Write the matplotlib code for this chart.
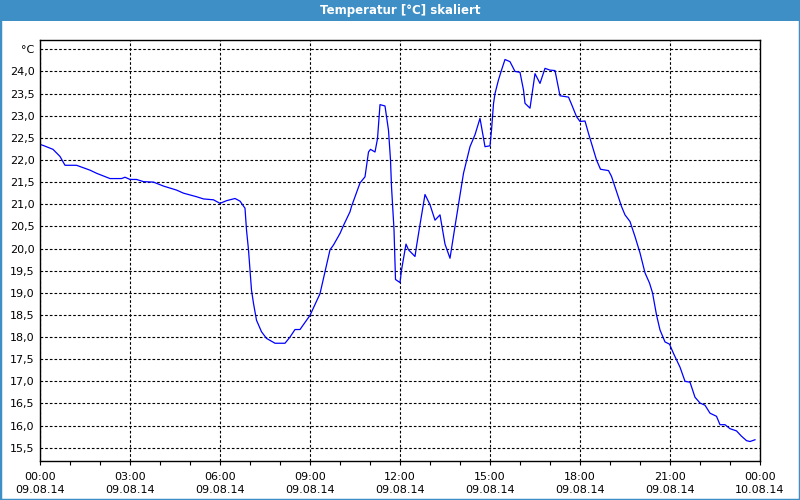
import datetime as dt
import matplotlib
matplotlib.use("Agg")
import matplotlib.pyplot as plt
import matplotlib.dates as mdates
from matplotlib.patches import Rectangle
from matplotlib.ticker import FixedLocator, FuncFormatter

# Messwerte 09.08.14 (Uhrzeit, Temperatur in °C)
times = [
    "00:00", "00:06", "00:26", "00:40", "00:50", "01:13", "01:40", "01:53",
    "02:20", "02:43", "02:50", "03:00", "03:13", "03:27", "03:47", "04:07",
    "04:33", "04:47", "05:13", "05:27", "05:47", "06:00", "06:13", "06:30",
    "06:40", "06:50", "06:53", "06:57", "07:00", "07:03", "07:07", "07:13",
    "07:23", "07:33", "07:50", "08:10", "08:20", "08:30", "08:40", "09:00",
    "09:20", "09:40", "09:47", "10:00", "10:07", "10:20", "10:23", "10:40",
    "10:50", "10:57", "11:01", "11:10", "11:15", "11:20", "11:30", "11:37",
    "11:41", "11:43", "11:48", "11:51", "12:00", "12:03", "12:12", "12:17",
    "12:30", "12:33", "12:40", "12:50", "13:00", "13:10", "13:20", "13:30",
    "13:40", "13:50", "14:07", "14:20", "14:30", "14:40", "14:50", "15:00",
    "15:03", "15:07", "15:10", "15:17", "15:23", "15:30", "15:40", "15:50",
    "16:00", "16:07", "16:10", "16:20", "16:30", "16:40", "16:50", "17:00",
    "17:10", "17:20", "17:37", "17:43", "17:53", "18:00", "18:10", "18:17",
    "18:27", "18:33", "18:41", "18:57", "19:03", "19:13", "19:23", "19:30",
    "19:40", "19:50", "20:00", "20:10", "20:19", "20:25", "20:33", "20:40",
    "20:50", "20:59", "21:07", "21:20", "21:30", "21:40", "21:50", "22:00",
    "22:10", "22:20", "22:33", "22:40", "22:50", "23:00", "23:13", "23:23",
    "23:33", "23:40", "23:50",
]
temps = [
    22.35, 22.33, 22.24, 22.08, 21.88, 21.88, 21.77, 21.70,
    21.58, 21.58, 21.61, 21.56, 21.56, 21.51, 21.50, 21.41,
    21.32, 21.25, 21.17, 21.12, 21.10, 21.02, 21.08, 21.13,
    21.07, 20.91, 20.42, 19.97, 19.51, 19.06, 18.76, 18.38,
    18.12, 17.97, 17.86, 17.86, 18.00, 18.17, 18.17, 18.49,
    18.98, 19.97, 20.08, 20.34, 20.52, 20.83, 20.95, 21.48,
    21.62, 22.18, 22.24, 22.18, 22.48, 23.25, 23.22, 22.67,
    22.00, 21.40, 20.43, 19.30, 19.23, 19.51, 20.10, 19.97,
    19.82, 20.05, 20.54, 21.22, 20.99, 20.64, 20.76, 20.10,
    19.78, 20.50, 21.70, 22.30, 22.57, 22.94, 22.30, 22.32,
    22.67, 23.27, 23.50, 23.81, 24.03, 24.27, 24.22, 24.00,
    23.98, 23.58, 23.28, 23.17, 23.95, 23.73, 24.07, 24.03,
    24.02, 23.45, 23.42, 23.26, 22.98, 22.87, 22.88, 22.60,
    22.23, 22.00, 21.79, 21.76, 21.63, 21.29, 20.95, 20.76,
    20.61, 20.27, 19.90, 19.45, 19.22, 19.00, 18.50, 18.16,
    17.89, 17.84, 17.63, 17.32, 17.00, 16.98, 16.64, 16.51,
    16.46, 16.28, 16.21, 16.02, 16.02, 15.93, 15.88, 15.76,
    15.66, 15.64, 15.68,
]

y_ticks = [15.5, 16.0, 16.5, 17.0, 17.5, 18.0, 18.5, 19.0, 19.5,
           20.0, 20.5, 21.0, 21.5, 22.0, 22.5, 23.0, 23.5, 24.0, 24.5]
unit_label = "°C"
title = "Temperatur [°C] skaliert"

day = dt.datetime(2014, 8, 9)
x = [dt.datetime.combine(day.date(), dt.datetime.strptime(t, "%H:%M").time())
     for t in times]

bar_color = "#3d8fc5"

fig = plt.figure(figsize=(8, 5), dpi=100)
fig.patch.set_facecolor("white")

# Fensterrahmen und Titelleiste
fig.patches.append(Rectangle((0, 0), 1, 1, transform=fig.transFigure,
                             fill=False, edgecolor=bar_color, linewidth=2.5))
fig.patches.append(Rectangle((0, 1 - 21 / 500), 1, 21 / 500,
                             transform=fig.transFigure,
                             facecolor=bar_color, edgecolor="none"))
fig.text(0.5, 1 - 10.5 / 500, title, color="white", fontsize=8.5,
         fontweight="bold", ha="center", va="center")

ax = fig.add_axes([40 / 800, 1 - 461 / 500, 720 / 800, 421 / 500])
ax.plot(x, temps, color="#0000ff", linewidth=0.9)

ax.set_xlim(day, day + dt.timedelta(days=1))
ax.set_ylim(15.2, 24.71)

ax.xaxis.set_major_locator(mdates.HourLocator(byhour=range(0, 24, 3)))
ax.xaxis.set_minor_locator(mdates.HourLocator())
ax.xaxis.set_major_formatter(mdates.DateFormatter("%H:%M\n%d.%m.%y"))

ax.yaxis.set_major_locator(FixedLocator(y_ticks))


def y_fmt(v, pos):
    if abs(v - y_ticks[-1]) < 1e-6:
        return unit_label
    return f"{v:.1f}".replace(".", ",")


ax.yaxis.set_major_formatter(FuncFormatter(y_fmt))

ax.tick_params(axis="x", which="both", direction="out", length=3,
               width=0.8, labelsize=8, pad=5)
ax.tick_params(axis="y", length=0, labelsize=8, pad=4)
for lbl in ax.get_xticklabels():
    lbl.set_linespacing(1.35)

ax.grid(True, which="major", color="black", linestyle=(0, (2.4, 1.8)),
        linewidth=0.8)
for s in ax.spines.values():
    s.set_linewidth(1.0)

fig.savefig("out.png", dpi=100)
